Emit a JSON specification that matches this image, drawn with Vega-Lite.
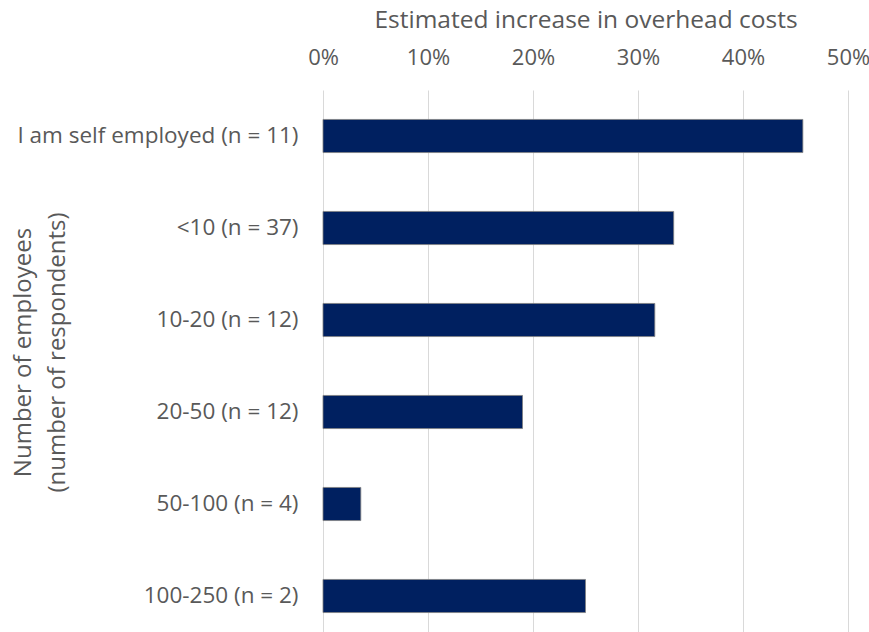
{
  "$schema": "https://vega.github.io/schema/vega-lite/v6.json",
  "width": 525,
  "height": 552,
  "autosize": "none",
  "padding": {"left": 323, "top": 90, "right": 21, "bottom": 0},
  "background": "white",
  "data": {"values": [
    {"group": "I am self employed (n = 11)", "value": 0.457},
    {"group": "<10 (n = 37)", "value": 0.334},
    {"group": "10-20 (n = 12)", "value": 0.316},
    {"group": "20-50 (n = 12)", "value": 0.190},
    {"group": "50-100 (n = 4)", "value": 0.036},
    {"group": "100-250 (n = 2)", "value": 0.250}
  ]},
  "mark": {"type": "bar", "color": "#002060", "stroke": "#7f7f7f", "strokeWidth": 0.8},
  "encoding": {
    "y": {
      "field": "group", "type": "nominal", "sort": null,
      "scale": {"paddingInner": 0.64, "paddingOuter": 0.32},
      "axis": {
        "title": ["Number of employees", "(number of respondents)"],
        "titleFont": "Open Sans", "titleFontSize": 24, "titleFontWeight": "normal", "titleColor": "#595959",
        "titleAngle": -90, "titleX": -300, "titleY": 262, "titleAlign": "center", "titleBaseline": "middle", "titleLineHeight": 34,
        "labelFont": "Open Sans", "labelFontSize": 22.5, "labelColor": "#595959", "labelPadding": 25, "labelLimit": 400,
        "ticks": false, "domain": false, "grid": false
      }
    },
    "x": {
      "field": "value", "type": "quantitative",
      "scale": {"domain": [0, 0.5], "nice": false},
      "axis": {
        "orient": "top", "format": ".0%", "values": [0, 0.1, 0.2, 0.3, 0.4, 0.5], "labelOverlap": false, "labelFlush": false,
        "title": "Estimated increase in overhead costs",
        "titleFont": "Open Sans", "titleFontSize": 24.5, "titleFontWeight": "normal", "titleColor": "#595959", "titlePadding": 14,
        "labelFont": "Open Sans", "labelFontSize": 22, "labelColor": "#595959", "labelPadding": 21,
        "ticks": false, "domain": false, "grid": true, "gridColor": "#d9d9d9", "gridWidth": 1
      }
    }
  },
  "config": {"view": {"stroke": null}}
}
